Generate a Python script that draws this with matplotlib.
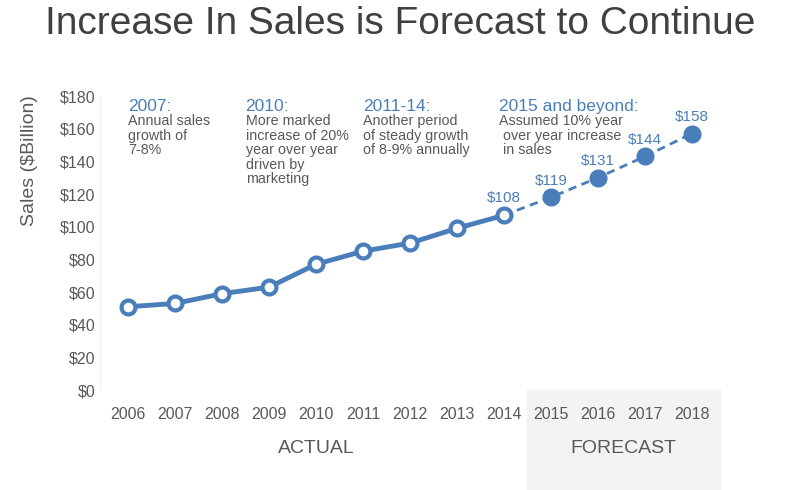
import matplotlib
matplotlib.use("Agg")
from matplotlib import pyplot as plt
from matplotlib.patches import Rectangle
import matplotlib.transforms as mtrans

plt.rcParams['font.family'] = ['Liberation Sans', 'DejaVu Sans']

years_actual = [2006, 2007, 2008, 2009, 2010, 2011, 2012, 2013, 2014]
sales_actual = [51, 53, 59, 63, 77, 85, 90, 99, 107]
years_fc = [2014, 2015, 2016, 2017, 2018]
sales_fc = [107, 118, 130, 143, 157]
fc_labels = ["$108", "$119", "$131", "$144", "$158"]

notes = [
    (2006.0, "2007:", "Annual sales\ngrowth of\n7-8%"),
    (2008.5, "2010:", "More marked\nincrease of 20%\nyear over year\ndriven by\nmarketing"),
    (2011.0, "2011-14:", "Another period\nof steady growth\nof 8-9% annually"),
    (2013.9, "2015 and beyond:", "Assumed 10% year\n over year increase\n in sales"),
]

blue = '#4a7ebb'
gray = '#595959'

fig = plt.figure(figsize=(8, 4.9), dpi=100)
ax = fig.add_axes([0.125, 0.204, 0.775, 0.6])

ax.plot(years_fc, sales_fc, color=blue, lw=2, ls=(0, (3, 2)), zorder=2)
ax.plot(years_fc[1:], sales_fc[1:], 'o', color=blue, ms=12, zorder=3)
ax.plot(years_actual, sales_actual, '-o', color=blue, lw=3.5, ms=10,
        markerfacecolor='white', markeredgewidth=3, zorder=4)
for x, y, s in zip(years_fc, sales_fc, fc_labels):
    ax.text(x, y + 6, s, color=blue, fontsize=11, ha='center', va='bottom')

for x, head, body in notes:
    ax.text(x, 178, head, color=blue, fontsize=12.5, va='top')
    ax.text(x, 169, body, color=gray, fontsize=10.3, va='top', linespacing=1.05)

ax.set_xlim(2005.4, 2018.6)
ax.set_ylim(0, 180)
ax.set_yticks(range(0, 181, 20))
ax.set_yticklabels(["$%d" % v for v in range(0, 181, 20)])
ax.set_xticks(years_actual + years_fc[1:])
ax.tick_params(length=0, labelcolor=gray, labelsize=11.5)
ax.tick_params(axis='x', pad=12)
for s in ['top', 'right', 'bottom']:
    ax.spines[s].set_visible(False)
ax.spines['left'].set_color('#f0f0f0')
ax.set_ylabel("Sales ($Billion)", color=gray, fontsize=14, labelpad=14)
ax.yaxis.set_label_coords(-0.1, 0.78)

trans = mtrans.blended_transform_factory(ax.transData, fig.transFigure)
ax.add_patch(Rectangle((2014.5, 0), 4.1, 0.204, transform=trans,
                       color='#f2f4f3', clip_on=False, zorder=0))
ax.text(2010, 0.085, "ACTUAL", transform=trans, ha='center', va='center',
        color=gray, fontsize=14)
ax.text(2016.55, 0.085, "FORECAST", transform=trans, ha='center', va='center',
        color=gray, fontsize=14)

fig.text(0.5, 0.95, "Increase In Sales is Forecast to Continue", ha='center',
         va='center', color='#404040', fontsize=28)

fig.savefig("out.png", dpi=100)
